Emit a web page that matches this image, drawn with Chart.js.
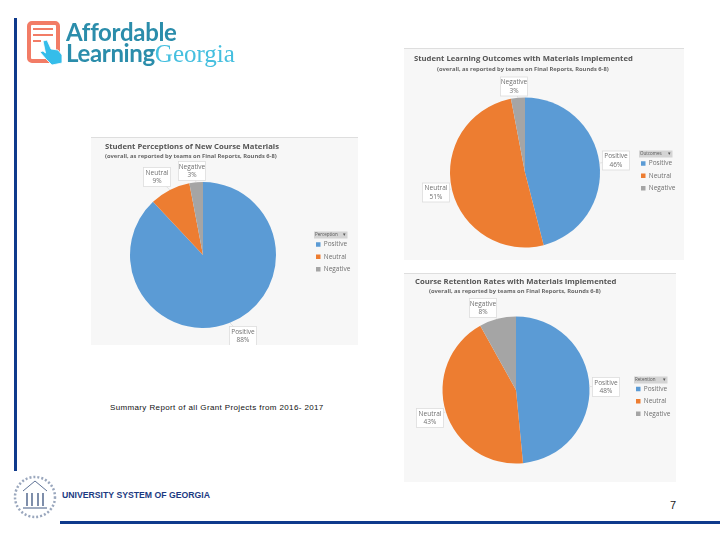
<!DOCTYPE html>
<html><head><meta charset="utf-8">
<script src="https://cdn.jsdelivr.net/npm/chart.js@4"></script>
<style>
html,body{margin:0;padding:0;background:#fff;width:720px;height:540px;overflow:hidden}
.abs{position:absolute;white-space:nowrap}
.soft{filter:blur(0.3px)}
.panel{position:absolute;background:#f7f7f7;border-top:1px solid #dedede;box-sizing:border-box}
.panel canvas{filter:blur(0.4px)}
</style></head><body>
<div class="abs" style="left:14px;top:18px;width:3px;height:453px;background:#0f3a8c"></div>
<div class="abs" style="left:60px;top:521px;width:660px;height:3px;background:#0f3a8c"></div>

<svg class="abs soft" style="left:24px;top:19px" width="46" height="50" viewBox="0 0 46 50">
  <rect x="5" y="4" width="29" height="38" rx="3" fill="#fff" stroke="#f27c66" stroke-width="4"/>
  <path d="M9 10h20M9 16h20M9 22h8" stroke="#f27c66" stroke-width="2" fill="none"/>
  <path d="M19 22l4-1 4 9 7 1 4 5v8l-10 2-6-6-6-7 3-1 2.500 2z" fill="#35bdea" stroke="#fff" stroke-width="0.8"/>
</svg>
<div class="abs soft" style="left:66px;top:16.500px;font:bold 24px/30px Lato,sans-serif;color:#2b8dab;letter-spacing:-0.3px">Affordable</div>
<div class="abs soft" style="left:66px;top:37.500px;font:bold 24px/30px Lato,sans-serif;color:#2b8dab;letter-spacing:-0.35px">Learning<span style="font:25px/30px 'Liberation Serif',serif;color:#45bfdf;letter-spacing:0">Georgia</span></div>

<div class="panel" style="left:91px;top:137px;width:267px;height:208px"><canvas id="c1" width="267" height="207"></canvas></div>
<div class="panel" style="left:404px;top:48px;width:280px;height:212px"><canvas id="c2" width="280" height="211"></canvas></div>
<div class="panel" style="left:404px;top:273px;width:272px;height:209px"><canvas id="c3" width="272" height="208"></canvas></div>

<div class="abs" style="left:110px;top:401.500px;font:8px/11px 'Liberation Sans',sans-serif;color:#111;letter-spacing:0.35px;word-spacing:0.2px">Summary Report of all Grant Projects from 2016- 2017</div>

<svg class="abs soft" style="left:12px;top:474px" width="46" height="46" viewBox="0 0 46 46">
  <circle cx="23" cy="23" r="20" fill="none" stroke="#9aa7bd" stroke-width="2.500" stroke-dasharray="2 2"/>
  <path d="M11 17L23 7l12 10" fill="none" stroke="#5f7396" stroke-width="1"/>
  <path d="M15 19v13M20 19v13M26 19v13M31 19v13" stroke="#5f7396" stroke-width="1.600"/>
  <path d="M11 34h24" stroke="#5f7396" stroke-width="1.200"/>
</svg>
<div class="abs" style="left:62px;top:489px;font:bold 8.700px/12px 'Liberation Sans',sans-serif;color:#1b3a82">UNIVERSITY SYSTEM OF GEORGIA</div>
<div class="abs" style="left:670px;top:498px;font:11px/14px 'Liberation Sans',sans-serif;color:#222">7</div>

<script>
const categories = ['Positive', 'Neutral', 'Negative'];
const colors = ['#5b9bd5', '#ed7d31', '#a5a5a5'];

const perceptionValues = [88, 9, 3];
const outcomeValues = [46, 51, 3];
const retentionValues = [48, 43, 8];

const LEGEND_PAD = 5.8;

const chartSpecs = [
  { id:'c1', values:perceptionValues,
    title:'Student Perceptions of New Course Materials',
    subtitle:'(overall, as reported by teams on Final Reports, Rounds 6-8)',
    titleX:14, titleY:4, subX:14, subY:15,
    cx:112, cy:117, r:73,
    header:'Perception', legendX:223, legendY:96, rowShift:1.5,
    boxes:[[40,81],[-46,-78],[-11,-84]] },
  { id:'c2', values:outcomeValues,
    title:'Student Learning Outcomes with Materials Implemented',
    subtitle:'(overall, as reported by teams on Final Reports, Rounds 6-8)',
    titleX:10, titleY:5, subX:33, subY:17,
    cx:121, cy:123.5, r:75,
    header:'Outcomes', legendX:235, legendY:104, rowShift:1.5,
    boxes:[[91,-12],[-89,20],[-11,-86]] },
  { id:'c3', values:retentionValues,
    title:'Course Retention Rates with Materials Implemented',
    subtitle:'(overall, as reported by teams on Final Reports, Rounds 6-8)',
    titleX:11, titleY:3, subX:25, subY:14,
    cx:112, cy:116, r:73.5,
    header:'Retention', legendX:230, legendY:105, rowShift:1,
    boxes:[[90,-3],[-86,28],[-33,-82]] }
];

const placement = {
  id:'placement',
  afterLayout(chart, args, o){
    const a = chart.chartArea;
    a.left = o.cx - o.r; a.right = o.cx + o.r; a.top = o.cy - o.r; a.bottom = o.cy + o.r;
    a.width = a.height = 2 * o.r;
    const t = chart.titleBlock;
    const s = chart.boxes.find(b => b !== t && b.options && b.options.text === o.subtitle);
    t.left = o.titleX; t.right = chart.width; t.top = o.titleY; t.bottom = o.titleY + t.height;
    if (s) { s.left = o.subX; s.right = chart.width; s.top = o.subY; s.bottom = o.subY + s.height; }
    const l = chart.legend, w = l.width, h = l.height;
    l.left = o.legendX + 2 - LEGEND_PAD; l.right = l.left + w;
    l.top = o.legendY + o.rowShift; l.bottom = l.top + h;
  },
  beforeDatasetsDraw(chart, args, o){
    const c = chart.ctx;
    c.save();
    c.fillStyle = '#d4d4d4';
    c.fillRect(o.legendX, o.legendY - 2.5, 33.5, 7);
    c.fillStyle = '#555';
    c.font = '4.5px "Open Sans", sans-serif';
    c.textBaseline = 'middle';
    c.textAlign = 'left';
    c.fillText(o.header, o.legendX + 1, o.legendY + 1);
    c.fillText('\u25BE', o.legendX + 29, o.legendY + 1);
    c.restore();
  },
  afterDatasetsDraw(chart, args, o){
    const c = chart.ctx, meta = chart.getDatasetMeta(0);
    const vals = chart.data.datasets[0].data;
    c.save();
    meta.data.forEach((arc, i) => {
      const mid = (arc.startAngle + arc.endAngle) / 2;
      const ax = arc.x + Math.cos(mid) * arc.outerRadius, ay = arc.y + Math.sin(mid) * arc.outerRadius;
      const bx = arc.x + o.boxes[i][0], by = arc.y + o.boxes[i][1];
      c.strokeStyle = '#dcdcdc'; c.lineWidth = 0.8;
      c.beginPath(); c.moveTo(ax, ay); c.lineTo(bx, by); c.stroke();
      c.fillStyle = '#fff';
      c.fillRect(bx - 13.5, by - 9.5, 27, 19);
      c.strokeRect(bx - 13.5, by - 9.5, 27, 19);
      c.fillStyle = '#707070';
      c.font = '6.5px "Open Sans", sans-serif';
      c.textAlign = 'center'; c.textBaseline = 'middle';
      c.fillText(chart.data.labels[i], bx, by - 4);
      c.fillText(vals[i] + '%', bx, by + 4.5);
    });
    c.restore();
  }
};

chartSpecs.forEach(s => {
  new Chart(document.getElementById(s.id), {
    type:'pie',
    data:{ labels:categories, datasets:[{ data:s.values, backgroundColor:colors, borderWidth:0 }] },
    plugins:[placement],
    options:{
      responsive:false, animation:false,
      plugins:{
        tooltip:{enabled:false},
        title:{ display:true, text:s.title, align:'start', color:'#555', padding:0,
                font:{family:'"Open Sans", sans-serif', size:7.7, weight:'bold'} },
        subtitle:{ display:true, text:s.subtitle, align:'start', color:'#666', padding:0,
                font:{family:'"Open Sans", sans-serif', size:5.8, weight:'bold'} },
        legend:{ position:'chartArea', align:'start',
          labels:{ boxWidth:4.5, boxHeight:4.5, padding:LEGEND_PAD, color:'#707070',
                   font:{family:'"Open Sans", sans-serif', size:6.5} } },
        placement:{ ...s }
      }
    }
  });
});
</script>
</body></html>
